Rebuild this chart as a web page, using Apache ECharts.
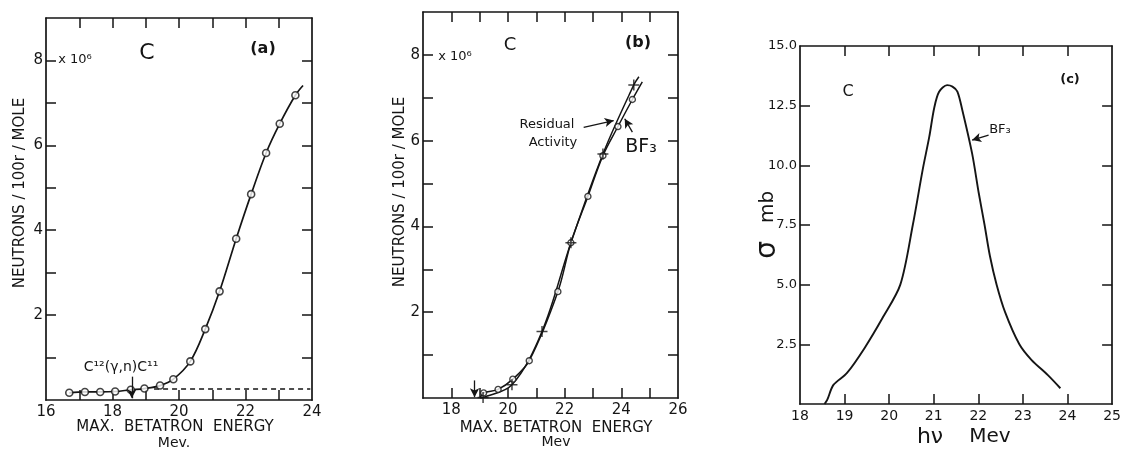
<!DOCTYPE html>
<html>
<head>
<meta charset="utf-8">
<script src="https://cdn.jsdelivr.net/npm/echarts@6/dist/echarts.min.js"></script>
<style>
html, body { margin: 0; background: #fff; }
#chart { width: 1124px; height: 449px; }
</style>
</head>
<body>
<div id="chart"></div>
<script>
// (a) yield curve, circles = measured points
var aPoints = [[16.70,0.17],[17.17,0.19],[17.63,0.19],[18.08,0.20],[18.55,0.24],[18.96,0.27],[19.43,0.34],[19.83,0.49],[20.34,0.91],[20.79,1.67],[21.22,2.56],[21.72,3.80],[22.17,4.85],[22.62,5.82],[23.03,6.51],[23.50,7.18]];
var aTail = [23.73, 7.41];
var aDashed = [[19.25,0.26],[23.95,0.26]];
var aThreshold = [[18.58,0.55],[18.58,0.04]];

// (b) residual activity (+) and BF3 (o)
var bResidual = [[19.12,0.01],[20.14,0.31],[21.20,1.55],[22.22,3.62],[23.35,5.69],[24.44,7.30]];
var bBF3 = [[19.14,0.12],[19.65,0.20],[20.17,0.44],[20.75,0.87],[21.76,2.48],[22.22,3.62],[22.82,4.70],[23.35,5.65],[23.88,6.33],[24.39,6.96]];
var bStart = [19.02, 0];
var bResidualTail = [24.62, 7.49];
var bBF3Tail = [24.74, 7.37];
var bThreshold = [[18.82,0.41],[18.82,0.02]];

// (c) cross section curve
var cCurve = [[18.55,0],[18.61,0.17],[18.75,0.80],[19.05,1.29],[19.45,2.35],[19.85,3.6],[20.25,5.0],[20.53,7.5],[20.75,9.8],[20.90,11.2],[21.01,12.4],[21.12,13.08],[21.30,13.36],[21.42,13.30],[21.53,13.09],[21.64,12.32],[21.86,10.50],[22.01,8.83],[22.14,7.5],[22.26,6.2],[22.41,5.0],[22.6,3.85],[22.92,2.5],[23.19,1.85],[23.56,1.21],[23.84,0.66]];

var abXTicks = [17,18,19,20,21,22,23];
var abXLabels = [16,18,20,22,24];
var bXTicks = [18,19,20,21,22,23,24,25];
var bXLabels = [18,20,22,24,26];
var abYTicks = [1,2,3,4,5,6,7,8];
var abYLabels = [2,4,6,8];
var cXTicks = [19,20,21,22,23,24];
var cXLabels = [18,19,20,21,22,23,24,25];
var cYTicks = [2.5,5,7.5,10,12.5];
var cYLabels = [2.5,5,7.5,10,12.5,15];

var ink = '#151515';
var font = 'DejaVu Sans';

function xAxes(g, min, max, ticks, labels, size) {
    var line = { show: true, onZero: false, lineStyle: { color: ink, width: 1.7 } };
    return [
        { type: 'value', gridIndex: g, position: 'bottom', min: min, max: max,
          axisLine: line, splitLine: { show: false },
          axisTick: { inside: true, length: 10, customValues: ticks, lineStyle: { color: ink, width: 1.5 } },
          axisLabel: { customValues: labels, margin: 5, color: ink, fontSize: size, fontFamily: font } },
        { type: 'value', gridIndex: g, position: 'top', min: min, max: max,
          axisLine: line, splitLine: { show: false },
          axisTick: { inside: true, length: 10, customValues: ticks, lineStyle: { color: ink, width: 1.5 } },
          axisLabel: { show: false } }
    ];
}
function yAxes(g, min, max, ticks, labels, size, fmt) {
    var line = { show: true, onZero: false, lineStyle: { color: ink, width: 1.7 } };
    return [
        { type: 'value', gridIndex: g, position: 'left', min: min, max: max,
          axisLine: line, splitLine: { show: false },
          axisTick: { inside: true, length: 10, customValues: ticks, lineStyle: { color: ink, width: 1.5 } },
          axisLabel: { customValues: labels, margin: 3, color: ink, fontSize: size, fontFamily: font, formatter: fmt } },
        { type: 'value', gridIndex: g, position: 'right', min: min, max: max,
          axisLine: line, splitLine: { show: false },
          axisTick: { inside: true, length: 10, customValues: ticks, lineStyle: { color: ink, width: 1.5 } },
          axisLabel: { show: false } }
    ];
}
function arrow(from, to) {
    return {
        silent: true, symbol: ['none', 'arrow'], symbolSize: [7, 9],
        lineStyle: { color: ink, width: 1.3, type: 'solid' }, label: { show: false },
        data: [[{ coord: from }, { coord: to }]]
    };
}
function txt(text, x, y, size, extra, weight) {
    var s = { text: text, fill: ink, font: (weight || 'normal') + ' ' + size + 'px "' + font + '"', textAlign: 'center', textVerticalAlign: 'middle' };
    var el = { type: 'text', x: x, y: y, style: s, silent: true };
    if (extra) { for (var k in extra) { el[k] = extra[k]; } }
    return el;
}

var plusSymbol = 'path://M0,-5 L0,5 M-5,0 L5,0';

var option = {
    backgroundColor: '#fff',
    animation: false,
    grid: [
        { left: 46, top: 18, width: 266, height: 382 },
        { left: 423, top: 12, width: 255, height: 386 },
        { left: 800, top: 46, width: 315, height: 358 }
    ],
    xAxis: xAxes(0, 16, 24, abXTicks, abXLabels, 15)
        .concat(xAxes(1, 17, 26, bXTicks, bXLabels, 15))
        .concat(xAxes(2, 18, 25, cXTicks, cXLabels, 14)),
    yAxis: yAxes(0, 0, 9, abYTicks, abYLabels, 15)
        .concat(yAxes(1, 0, 9, abYTicks, abYLabels, 15))
        .concat(yAxes(2, 0, 15, cYTicks, cYLabels, 13, function (v) { return v.toFixed(1); })),
    series: [
        // (a)
        { type: 'line', xAxisIndex: 0, yAxisIndex: 0, data: aPoints.concat([aTail]), smooth: 0.35,
          showSymbol: false, lineStyle: { color: ink, width: 1.7 }, z: 2,
          markLine: arrow(aThreshold[0], aThreshold[1]) },
        { type: 'scatter', xAxisIndex: 0, yAxisIndex: 0, data: aPoints, symbol: 'circle', symbolSize: 7,
          itemStyle: { color: '#fff', borderColor: ink, borderWidth: 1.6 }, z: 3 },
        { type: 'line', xAxisIndex: 0, yAxisIndex: 0, data: aDashed, showSymbol: false,
          lineStyle: { color: ink, width: 1.6, type: [5, 4] } },
        // (b)
        { type: 'line', xAxisIndex: 2, yAxisIndex: 2, data: [bStart].concat(bResidual, [bResidualTail]), smooth: 0.35,
          showSymbol: false, lineStyle: { color: ink, width: 1.5 },
          markLine: arrow(bThreshold[0], bThreshold[1]) },
        { type: 'line', xAxisIndex: 2, yAxisIndex: 2, data: [bStart].concat(bBF3, [bBF3Tail]), smooth: 0.35,
          showSymbol: false, lineStyle: { color: ink, width: 1.5 } },
        { type: 'scatter', xAxisIndex: 2, yAxisIndex: 2, data: bBF3, symbol: 'circle', symbolSize: 6,
          itemStyle: { color: '#fff', borderColor: ink, borderWidth: 1.4 }, z: 3 },
        { type: 'scatter', xAxisIndex: 2, yAxisIndex: 2, data: bResidual, symbol: plusSymbol, symbolSize: 11,
          itemStyle: { color: 'none', borderColor: ink, borderWidth: 1.5 }, z: 4 },
        { type: 'line', xAxisIndex: 2, yAxisIndex: 2, data: [], showSymbol: false,
          markLine: arrow([22.67, 6.31], [23.73, 6.47]) },
        { type: 'line', xAxisIndex: 2, yAxisIndex: 2, data: [], showSymbol: false,
          markLine: arrow([24.39, 6.20], [24.12, 6.51]) },
        // (c)
        { type: 'line', xAxisIndex: 4, yAxisIndex: 4, data: cCurve, smooth: 0.3,
          showSymbol: false, lineStyle: { color: ink, width: 1.9 },
          markLine: arrow([22.23, 11.27], [21.86, 11.06]) }
    ],
    graphic: [
        // (a)
        txt('C', 147, 53, 22),
        txt('(a)', 263, 49, 16, null, 'bold'),
        txt('x 10\u2076', 75, 60, 13),
        txt('C\u00b9\u00b2(\u03b3,n)C\u00b9\u00b9', 121, 367, 14),
        txt('NEUTRONS / 100r / MOLE', 20, 193, 15, { rotation: Math.PI / 2 }),
        txt('MAX.  BETATRON  ENERGY', 175, 427, 15),
        txt('Mev.', 174, 443, 14),
        // (b)
        txt('C', 510, 45, 18),
        txt('(b)', 638, 43, 16, null, 'bold'),
        txt('x 10\u2076', 455, 57, 13),
        txt('Residual', 547, 125, 13),
        txt('Activity', 553, 143, 13),
        txt('BF\u2083', 641, 147, 19),
        txt('NEUTRONS / 100r / MOLE', 400, 192, 15, { rotation: Math.PI / 2 }),
        txt('MAX. BETATRON  ENERGY', 556, 428, 15),
        txt('Mev', 556, 442, 14),
        // (c)
        txt('C', 848, 92, 16),
        txt('(c)', 1070, 80, 13, null, 'bold'),
        txt('BF\u2083', 1000, 130, 13),
        txt('\u03c3', 768, 250, 28, { rotation: Math.PI / 2 }),
        txt('mb', 768, 207, 20, { rotation: Math.PI / 2 }),
        txt('h\u03bd', 930, 437, 22),
        txt('Mev', 990, 437, 20)
    ]
};

var chart = echarts.init(document.getElementById('chart'));
chart.setOption(option);
</script>
</body>
</html>
